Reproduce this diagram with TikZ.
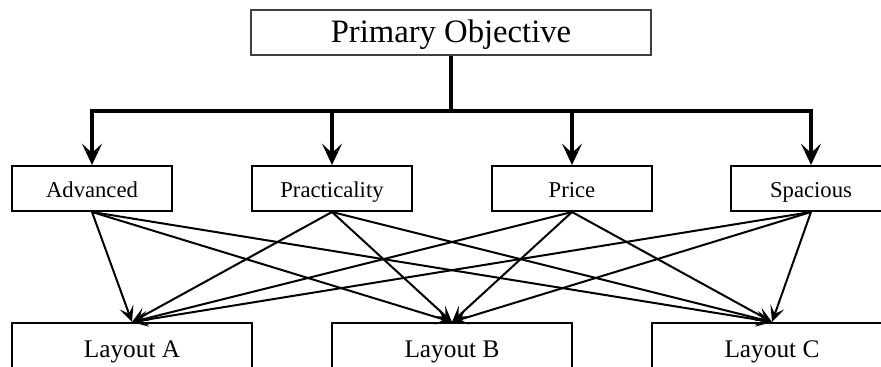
\documentclass[tikz,border=0pt]{standalone}
\usepackage{fontspec}
\setmainfont{Liberation Serif}
\usetikzlibrary{arrows.meta}

\tikzset{
  goal/.style={draw=black!75, line width=1pt, minimum width=300pt, minimum height=33.75pt, inner sep=0pt, text height=21.75pt, text depth=6pt, font=\fontsize{24.5}{27}\selectfont},
  crit/.style={draw, line width=1.5pt, minimum width=120pt, minimum height=33.75pt, inner sep=0pt, text height=16.75pt, text depth=4pt, font=\fontsize{17}{19}\selectfont},
  alt/.style={draw, line width=1.5pt, minimum width=180pt, minimum height=37.5pt, inner sep=0pt, text height=18.25pt, text depth=4.75pt, font=\fontsize{19}{21}\selectfont},
  trunk/.style={line width=2.4pt},
  link/.style={->, line width=1.5pt},
}

\begin{document}
\begin{tikzpicture}[x=0.75pt, y=-0.75pt, >={Stealth[length=12pt,width=11pt,inset=5.5pt]}]
        \clip (0,0) rectangle (881,367);
        \useasboundingbox (0,0) rectangle (881,367);
        % goal
        \node[goal] (prim) at (451,32.5) {Primary Objective};
        % criteria
        \node[crit] (adv) at (92,188.5) {Advanced};
        \node[crit] (prac) at (332,188.5) {Practicality};
        \node[crit] (price) at (572,188.5) {Price};
        \node[crit] (spac) at (811,188.5) {Spacious};
        % alternatives
        \node[alt] (layA) at (132,348) {Layout A};
        \node[alt] (layB) at (452,348) {Layout B};
        \node[alt] (layC) at (772,348) {Layout C};
        % tree from the goal
        \coordinate (bar) at (451,111);
        \draw[trunk] (prim.south) -- (bar);
        \foreach \c in {adv,prac,price,spac}
            \draw[trunk,->,>={Stealth[length=16pt,width=15pt,inset=7pt]}] (bar) -| (\c.north);
        % criteria to alternatives
        \foreach \c in {adv,prac,price,spac}
            \foreach \l in {layA,layB,layC}
                \draw[link] (\c.south) -- (\l.north);
    \end{tikzpicture}
\end{document}
